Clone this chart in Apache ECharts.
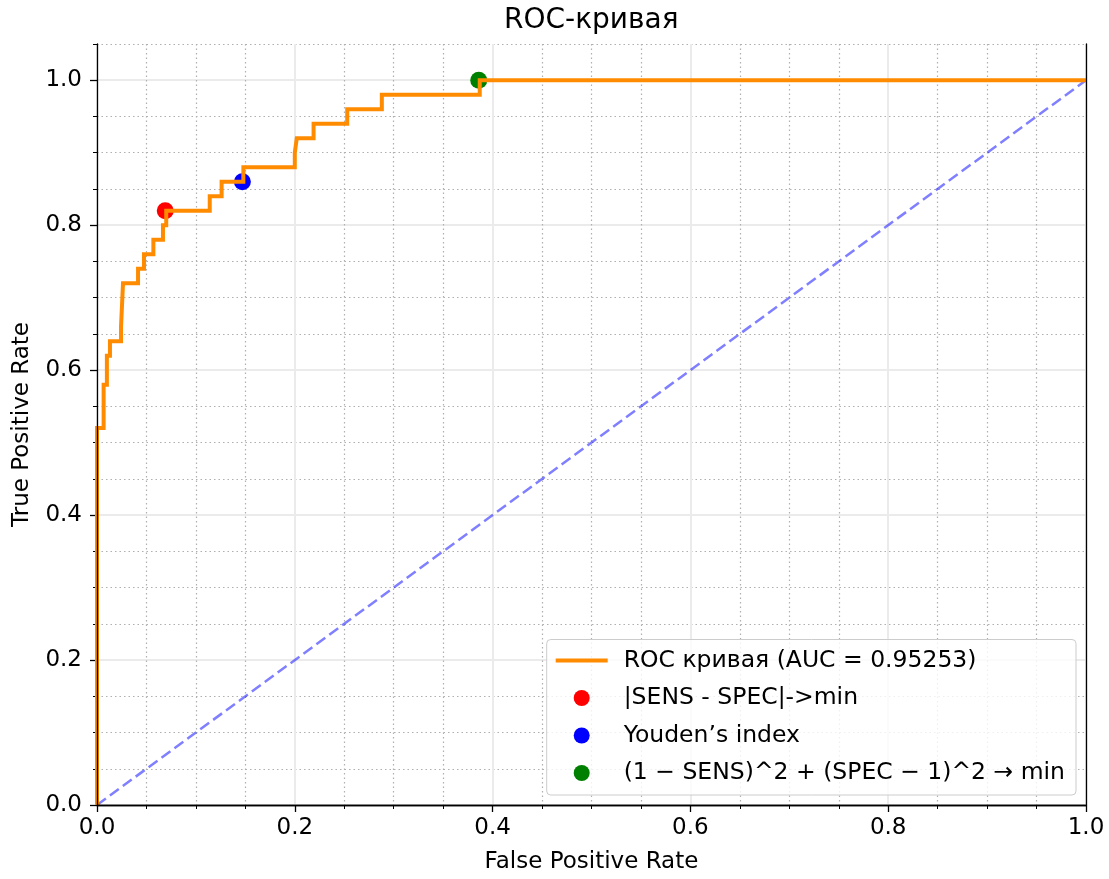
<!DOCTYPE html>
<html>
<head>
<meta charset="utf-8">
<script src="https://cdn.jsdelivr.net/npm/echarts@6/dist/echarts.min.js"></script>
<style>
  html, body { margin: 0; padding: 0; background: #fff; }
  #chart { width: 1109px; height: 879px; }
</style>
</head>
<body>
<div id="chart"></div>
<script>
// ---- data ----
const fpr = [0, 0, 0.0067, 0.0067, 0.010, 0.010, 0.0131, 0.0131, 0.0243, 0.0243, 0.0263, 0.0263,
  0.0415, 0.0415, 0.0475, 0.0475, 0.057, 0.057, 0.0667, 0.0667, 0.070, 0.070, 0.114, 0.114,
  0.126, 0.126, 0.148, 0.148, 0.200, 0.200, 0.202, 0.202, 0.219, 0.219, 0.253, 0.253,
  0.288, 0.288, 0.387, 0.387, 1.0];
const tpr = [0, 0.52, 0.52, 0.58, 0.58, 0.62, 0.62, 0.64, 0.64, 0.66, 0.66, 0.72,
  0.72, 0.74, 0.74, 0.76, 0.76, 0.78, 0.78, 0.80, 0.80, 0.82, 0.82, 0.84,
  0.84, 0.86, 0.86, 0.88, 0.88, 0.90, 0.90, 0.92, 0.92, 0.94, 0.94, 0.96,
  0.96, 0.98, 0.98, 1.0, 1.0];
const diagX = [0, 1];
const diagY = [0, 1];
const pointSensSpec = [0.069, 0.82];
const pointYouden = [0.147, 0.86];
const pointDist = [0.386, 1.0];
const majorTicks = [0, 0.2, 0.4, 0.6, 0.8, 1.0];
const seriesNames = [
  'ROC кривая (AUC = 0.95253)',
  '|SENS - SPEC|->min',
  'Youden’s index',
  '(1 − SENS)^2 + (SPEC − 1)^2 → min'
];
const titleText = 'ROC-кривая';
const xName = 'False Positive Rate';
const yName = 'True Positive Rate';

// ---- chart ----
const FONT = 'DejaVu Sans';
const FS = 23;
const chart = echarts.init(document.getElementById('chart'), null, { renderer: 'canvas' });

const rocData = fpr.map((x, i) => [x, tpr[i]]);
const diagData = diagX.map((x, i) => [x, diagY[i]]);

const spine = (pos) => ({
  type: 'value', min: 0, max: pos === 'left' || pos === 'right' ? 1.05 : 1, position: pos, z: 10,
  axisLine: { show: true, lineStyle: { color: '#000', width: 1.3 } },
  axisTick: { show: false }, axisLabel: { show: false }, splitLine: { show: false }
});

const fmt = v => Number(v).toFixed(1);

chart.setOption({
  animation: false,
  backgroundColor: '#fff',
  textStyle: { fontFamily: FONT },
  title: {
    text: titleText, left: 504, top: 7, padding: 0,
    textStyle: { fontFamily: FONT, fontSize: 28, fontWeight: 'normal', color: '#000' }
  },
  grid: { left: 97, right: 23, top: 44, bottom: 72, containLabel: false },
  xAxis: [
    {
      type: 'value', min: 0, max: 1, interval: 0.2, position: 'bottom',
      name: xName, nameLocation: 'middle', nameGap: 46,
      nameTextStyle: { fontFamily: FONT, fontSize: FS, color: '#000' },
      axisLine: { show: false },
      axisTick: { show: true, length: 7, lineStyle: { color: '#000', width: 1.3 } },
      minorTick: { show: true, splitNumber: 4, length: 4, lineStyle: { color: '#000', width: 1 } },
      axisLabel: { fontFamily: FONT, fontSize: FS, color: '#000', margin: 12, formatter: fmt },
      splitLine: { show: true, lineStyle: { color: '#ebebeb', width: 2 } },
      minorSplitLine: { show: true, lineStyle: { color: '#b0b0b0', width: 1.2, type: [1.5, 3] } }
    },
    spine('bottom'),
    spine('top')
  ],
  yAxis: [
    {
      type: 'value', min: 0, max: 1.05, interval: 0.05, position: 'left',
      axisLine: { show: false },
      axisTick: { show: true, length: 4, lineStyle: { color: '#000', width: 1 } },
      axisLabel: { show: false },
      splitLine: { show: true, lineStyle: { color: '#b0b0b0', width: 1.2, type: [1.5, 3] } }
    },
    {
      type: 'value', min: 0, max: 1.05, interval: 0.2, position: 'left',
      name: yName, nameLocation: 'middle', nameGap: 63,
      nameTextStyle: { fontFamily: FONT, fontSize: FS, color: '#000' },
      axisLine: { show: false },
      axisTick: { show: true, length: 7, customValues: majorTicks, lineStyle: { color: '#000', width: 1.3 } },
      axisLabel: {
        fontFamily: FONT, fontSize: FS, color: '#000', margin: 15, customValues: majorTicks,
        formatter: v => (Math.abs(v * 5 - Math.round(v * 5)) < 1e-6 ? fmt(v) : '')
      },
      splitLine: { show: true, lineStyle: { color: '#ebebeb', width: 2 } }
    },
    spine('left'),
    spine('right')
  ],
  legend: {
    orient: 'vertical', right: 33, bottom: 84,
    padding: [9, 11, 10, 7],
    itemWidth: 52, itemHeight: 16, itemGap: 13.5,
    backgroundColor: 'rgba(255,255,255,0.8)', borderColor: '#cccccc', borderWidth: 1, borderRadius: 4,
    textStyle: { fontFamily: FONT, fontSize: 23.5, color: '#000', padding: [0, 0, 0, 11] },
    data: [
      {
        name: seriesNames[0],
        itemStyle: { color: 'rgba(0,0,0,0)', borderColor: 'rgba(0,0,0,0)', borderWidth: 0 },
        lineStyle: { color: '#ff8c00', width: 4 }
      },
      { name: seriesNames[1], icon: 'circle' },
      { name: seriesNames[2], icon: 'circle' },
      { name: seriesNames[3], icon: 'circle' }
    ]
  },
  series: [
    {
      name: 'diag', type: 'line', xAxisIndex: 0, yAxisIndex: 0, data: diagData,
      symbol: 'none', silent: true, z: 2,
      lineStyle: { color: 'rgba(0,0,255,0.5)', width: 2.5, type: [11, 5] }
    },
    {
      name: seriesNames[0], type: 'line', xAxisIndex: 0, yAxisIndex: 0, data: rocData,
      symbol: 'none', z: 3,
      lineStyle: { color: '#ff8c00', width: 4, join: 'miter', cap: 'butt' },
      itemStyle: { color: '#ff8c00' }
    },
    {
      name: seriesNames[1], type: 'scatter', xAxisIndex: 0, yAxisIndex: 0, data: [pointSensSpec],
      symbolSize: 17, z: 2, itemStyle: { color: '#ff0000', opacity: 1 }
    },
    {
      name: seriesNames[2], type: 'scatter', xAxisIndex: 0, yAxisIndex: 0, data: [pointYouden],
      symbolSize: 17, z: 2, itemStyle: { color: '#0000ff', opacity: 1 }
    },
    {
      name: seriesNames[3], type: 'scatter', xAxisIndex: 0, yAxisIndex: 0, data: [pointDist],
      symbolSize: 17, z: 2, itemStyle: { color: '#008000', opacity: 1 }
    }
  ]
});
</script>
</body>
</html>
